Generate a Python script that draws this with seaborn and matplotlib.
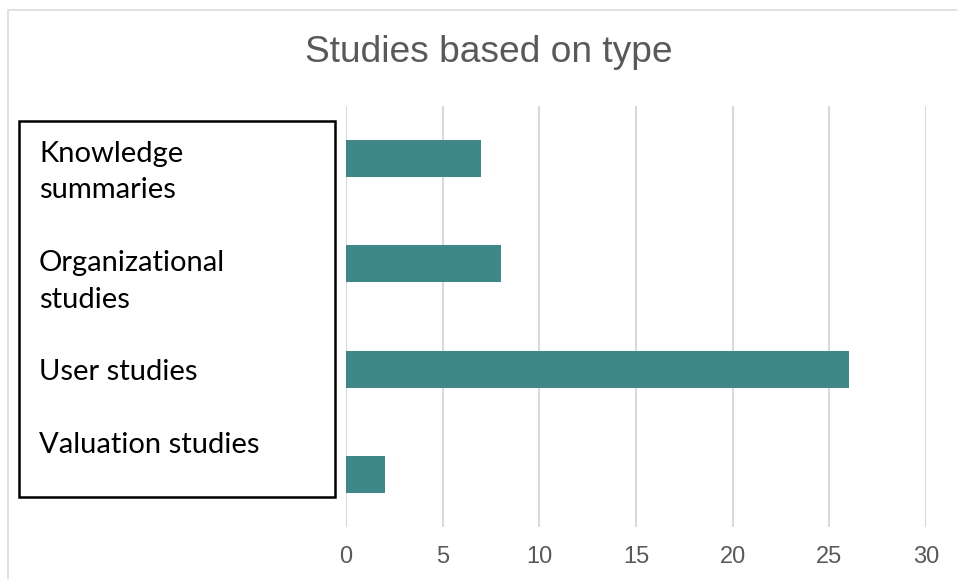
import textwrap

import matplotlib
matplotlib.use("Agg")
import matplotlib.pyplot as plt
from matplotlib.patches import Rectangle
import pandas as pd
import seaborn as sns

# Data
study_types = ["Knowledge summaries", "Organizational studies", "User studies", "Valuation studies"]
study_counts = [7, 8, 26, 2]
x_ticks = [0, 5, 10, 15, 20, 25, 30]
chart_title = "Studies based on type"

BAR_COLOR = "#3F8789"
GRID_COLOR = "#D9D9D9"
TEXT_GRAY = "#595959"

W, H = 957, 579
sns.set_theme(style="white")
plt.rcParams["font.family"] = ["Liberation Sans", "DejaVu Sans"]

fig = plt.figure(figsize=(W / 100, H / 100), dpi=100)
fig.patch.set_facecolor("white")


def fx(px):
    return px / W


def fy(py):
    return 1 - py / H


# Plot area
ax = fig.add_axes([fx(346), fy(527), fx(926) - fx(346), fy(106) - fy(527)])
df = pd.DataFrame({"type": study_types, "count": study_counts})
sns.barplot(data=df, x="count", y="type", orient="h", color=BAR_COLOR,
            saturation=1, width=0.35, linewidth=0, ax=ax)

ax.set_xlim(0, 30)
ax.set_ylim(len(study_types) - 0.5, -0.5)
ax.set_xticks(x_ticks)
ax.set_xticklabels([str(t) for t in x_ticks])
ax.set_yticks([])
ax.set_xlabel("")
ax.set_ylabel("")
ax.grid(axis="x", color=GRID_COLOR, linewidth=1.5)
ax.grid(axis="y", visible=False)
ax.set_axisbelow(True)
for s in ax.spines.values():
    s.set_visible(False)
ax.tick_params(axis="x", length=0, pad=14, labelsize=17, labelcolor=TEXT_GRAY)
ax.patch.set_alpha(0)

# Title
fig.text(fx(488.5), fy(62.5), chart_title, ha="center", va="baseline",
         fontsize=26.7, color=TEXT_GRAY)

# Outer chart frame
fig.add_artist(Rectangle((fx(8), -0.1), 2, fy(10) + 0.1, transform=fig.transFigure,
                         fill=False, edgecolor=GRID_COLOR, linewidth=1.1, clip_on=False))

# Category label box
fig.add_artist(Rectangle((fx(19), fy(497)), fx(335) - fx(19), fy(121) - fy(497),
                         transform=fig.transFigure, fill=False, edgecolor="black",
                         linewidth=1.8))

lines = []
for i, name in enumerate(study_types):
    if i > 0:
        lines.append("")
    lines.extend(textwrap.fill(name, 17).split("\n"))

baseline0, pitch = 162, 36.4
for k, line in enumerate(lines):
    if line:
        fig.text(fx(39), fy(baseline0 + k * pitch), line, ha="left", va="baseline",
                 fontsize=21, color="black", family=["Lato", "DejaVu Sans"])

fig.savefig("out.png", dpi=100)
